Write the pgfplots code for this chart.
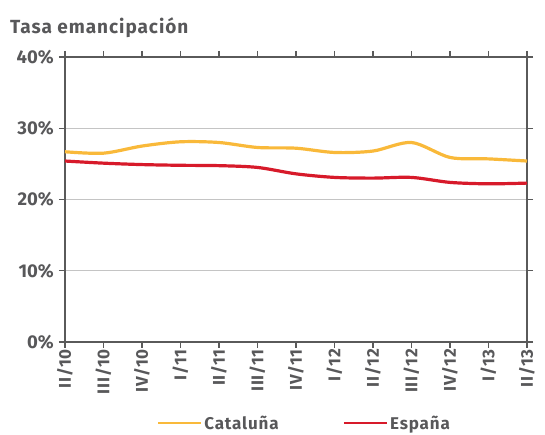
\documentclass[border=0pt]{standalone}
\usepackage{pgfplots}
\pgfplotsset{compat=1.18}
\usepackage{fontspec}
\setmainfont{Fira Sans}
\newfontfamily\din[LetterSpace=5]{Fira Sans}
\definecolor{txt}{HTML}{58585A}
\definecolor{cat}{HTML}{F9B93A}
\definecolor{esp}{HTML}{D71A2A}
\definecolor{axc}{HTML}{5A5A5A}
\definecolor{grd}{HTML}{C4C4C4}
\begin{document}
\begin{tikzpicture}
\useasboundingbox (-65pt,-93pt) rectangle (480pt,342pt);
\node[anchor=west, text=txt, font=\din\fontsize{19}{21}\selectfont\bfseries, inner sep=0pt] at (-55pt,314pt) {Tasa emancipación};
\begin{axis}[
  at={(0pt,0pt)}, anchor=south west,
  scale only axis, width=462pt, height=285pt,
  xmin=0, xmax=12, ymin=0, ymax=40,
  xtick={0,...,12},
  xticklabels={II/10,III/10,IV/10,I/11,II/11,III/11,IV/11,I/12,II/12,III/12,IV/12,I/13,II/13},
  ytick={0,10,20,30,40},
  yticklabels={0\%,10\%,20\%,30\%,40\%},
  x tick label style={rotate=90, anchor=east, font=\din\fontsize{17}{18}\selectfont\bfseries, text=txt, inner sep=1pt},
  y tick label style={font=\fontsize{18.5}{19}\selectfont\bfseries, text=txt, inner sep=5pt},
  xmajorticks=true, tick align=outside, major tick length=6pt,
  tick style={axc, line width=1.2pt},
  axis line style={axc, line width=1.5pt},
  ymajorgrids, grid style={grd, line width=1pt},
  clip=false,
  legend columns=2,
  legend style={draw=none, at={(0.518,-0.285)}, anchor=center, fill=none,
    font=\din\fontsize{17}{18}\selectfont\bfseries, text=txt, inner sep=0pt,
    /tikz/every even column/.append style={column sep=62pt}},
  legend image code/.code={\draw[#1, line width=2.5pt] (0pt,0pt) -- (43pt,0pt);},
]
\addplot[cat, line width=3.2pt, smooth, tension=0.5] coordinates {
(0,26.7) (1,26.5) (2,27.5) (3,28.1) (4,28.0) (5,27.3) (6,27.2) (7,26.6) (8,26.8) (9,28.0) (10,25.9) (11,25.7) (12,25.4)};
\addlegendentry{Cataluña}
\addplot[esp, line width=3.2pt, smooth, tension=0.5] coordinates {
(0,25.4) (1,25.1) (2,24.9) (3,24.8) (4,24.75) (5,24.5) (6,23.6) (7,23.1) (8,23.0) (9,23.1) (10,22.4) (11,22.2) (12,22.3)};
\addlegendentry{España}
\end{axis}
\end{tikzpicture}
\end{document}
